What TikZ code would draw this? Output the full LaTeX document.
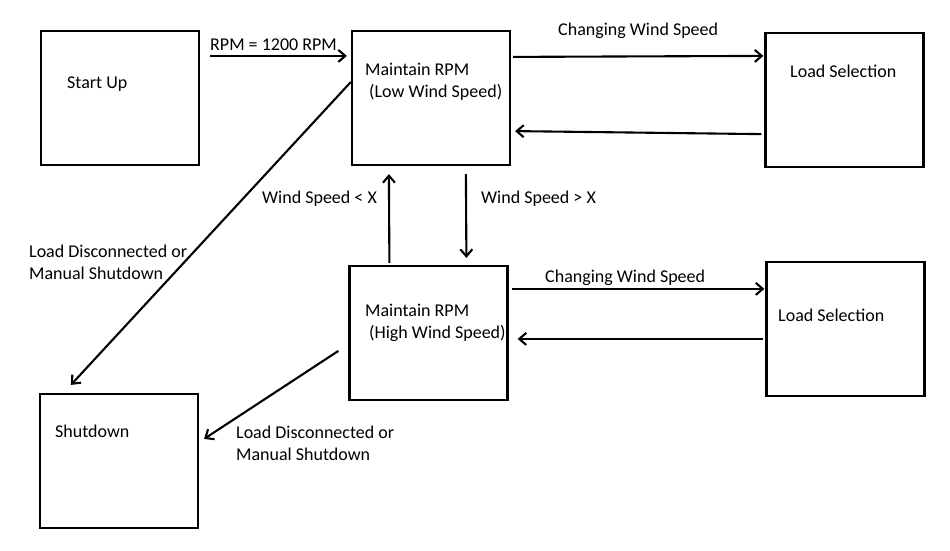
\documentclass[tikz,border=0pt]{standalone}
\usepackage{fontspec}
\setmainfont{Carlito}
\usetikzlibrary{arrows.meta, positioning, calc}

\begin{document}
\begin{tikzpicture}[x=1pt, y=-1pt,
  state/.style={draw, line width=2.2pt, minimum width=158pt, minimum height=134pt, inner sep=0pt},
  txt/.style={font=\fontsize{18}{22}\selectfont, anchor=west, inner sep=0pt, align=left},
  flow/.style={line width=2.1pt, -{Straight Barb[length=7pt, width=12pt]}}]
\useasboundingbox (0,0) rectangle (950,550);
% states
\node[state] (startup)  at (120,98)    {};
\node[state] (lowrpm)   at (431,98)    {};
\node[state] (loadtop)  at (844.5,100) {};
\node[state] (highrpm)  at (428.5,333) {};
\node[state] (loadbot)  at (845.5,329) {};
\node[state] (shutdown) at (119,461)   {};
% texts in the states
\node[txt] (startup-lbl)  at (67,84)  {Start Up};
\node[txt] (lowrpm-lbl)   at (365,82) {Maintain RPM\\\hspace*{4pt}(Low Wind Speed)};
\node[txt] (loadtop-lbl)  at (790,71) {Load Selection};
\node[txt] (highrpm-lbl)  at (365,323) {Maintain RPM\\\hspace*{4pt}(High Wind Speed)};
\node[txt] (loadbot-lbl)  at (778,315) {Load Selection};
\node[txt] (shutdown-lbl) at (55,431) {Shutdown};
% transitions
\draw[flow] ($(startup.north east)+(10,26)$) -- ($(lowrpm.north west)+(-4,26)$);
\draw[flow] ($(lowrpm.north east)+(2,27)$) -- ($(loadtop.north west)+(-1,24)$);
\draw[flow] ($(loadtop.south west)+(-3,-34)$) -- ($(lowrpm.south east)+(4,-35)$);
\draw[flow] ($(lowrpm.north west)+(0,52)$) -- ($(shutdown.north west)+(32,-8)$);
\draw[flow] ($(highrpm.north west)+(41,-2)$) -- ($(lowrpm.south west)+(38,8)$);
\draw[flow] ($(lowrpm.south west)+(115,8)$) -- ($(highrpm.north west)+(118,-7)$);
\draw[flow] ($(highrpm.north east)+(3,24)$) -- ($(loadbot.north west)+(-1,28)$);
\draw[flow] ($(loadbot.north west)+(-2,78)$) -- ($(highrpm.north east)+(9,74)$);
\draw[flow] ($(highrpm.north west)+(-10,86)$) -- ($(shutdown.north east)+(5,46)$);
% transition labels
\node[txt] (rpm-lbl)      at (210,45)  {RPM = 1200 RPM};
\node[txt] (chgtop-lbl)   at (558,31)  {Changing Wind Speed};
\node[txt] (below-lbl)    at (262,199) {Wind Speed < X};
\node[txt] (above-lbl)    at (481,199) {Wind Speed > X};
\node[txt] (disclow-lbl)  at (29,262)  {Load Disconnected or\\Manual Shutdown};
\node[txt] (chgbot-lbl)   at (545,278) {Changing Wind Speed};
\node[txt] (dischigh-lbl) at (236,443) {Load Disconnected or\\Manual Shutdown};
\end{tikzpicture}
\end{document}
